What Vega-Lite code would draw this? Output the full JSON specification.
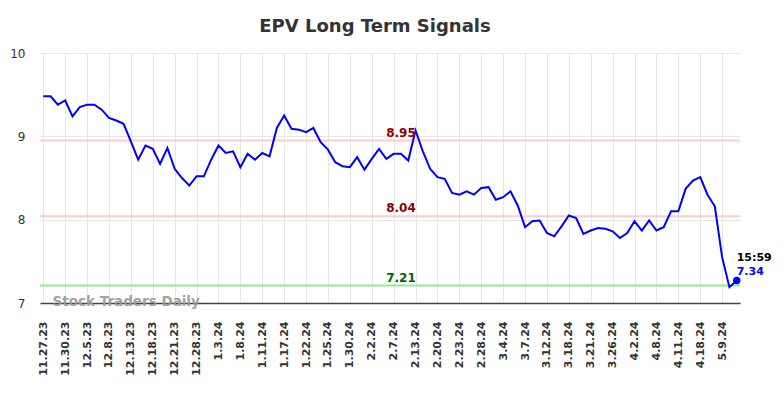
{
  "$schema": "https://vega.github.io/schema/vega-lite/v6.json",
  "autosize": "none",
  "width": 700,
  "height": 250,
  "padding": {"left": 40, "top": 53, "right": 44, "bottom": 95},
  "background": "#ffffff",
  "title": {
    "text": "EPV Long Term Signals",
    "font": "DejaVu Sans",
    "fontSize": 18,
    "fontWeight": "bold",
    "color": "#333333",
    "anchor": "middle",
    "dx": -15,
    "offset": 11
  },
  "config": {
    "view": {"stroke": null},
    "font": "DejaVu Sans"
  },
  "datasets": {
    "prices": [
      {"date": "11.27.23", "price": 9.48},
      {"date": "11.28.23", "price": 9.48},
      {"date": "11.29.23", "price": 9.38},
      {"date": "11.30.23", "price": 9.43},
      {"date": "12.1.23", "price": 9.24},
      {"date": "12.4.23", "price": 9.35},
      {"date": "12.5.23", "price": 9.38},
      {"date": "12.6.23", "price": 9.38},
      {"date": "12.7.23", "price": 9.32},
      {"date": "12.8.23", "price": 9.22},
      {"date": "12.11.23", "price": 9.19},
      {"date": "12.12.23", "price": 9.15},
      {"date": "12.13.23", "price": 8.94},
      {"date": "12.14.23", "price": 8.72},
      {"date": "12.15.23", "price": 8.89},
      {"date": "12.18.23", "price": 8.85},
      {"date": "12.19.23", "price": 8.67},
      {"date": "12.20.23", "price": 8.86},
      {"date": "12.21.23", "price": 8.61},
      {"date": "12.22.23", "price": 8.50},
      {"date": "12.26.23", "price": 8.41},
      {"date": "12.28.23", "price": 8.52},
      {"date": "12.29.23", "price": 8.52},
      {"date": "1.2.24", "price": 8.72},
      {"date": "1.3.24", "price": 8.89},
      {"date": "1.4.24", "price": 8.80},
      {"date": "1.5.24", "price": 8.82},
      {"date": "1.8.24", "price": 8.63},
      {"date": "1.9.24", "price": 8.79},
      {"date": "1.10.24", "price": 8.72},
      {"date": "1.11.24", "price": 8.80},
      {"date": "1.12.24", "price": 8.76},
      {"date": "1.16.24", "price": 9.10},
      {"date": "1.17.24", "price": 9.25},
      {"date": "1.18.24", "price": 9.09},
      {"date": "1.19.24", "price": 9.08},
      {"date": "1.22.24", "price": 9.05},
      {"date": "1.23.24", "price": 9.10},
      {"date": "1.24.24", "price": 8.93},
      {"date": "1.25.24", "price": 8.84},
      {"date": "1.26.24", "price": 8.69},
      {"date": "1.29.24", "price": 8.64},
      {"date": "1.30.24", "price": 8.63},
      {"date": "1.31.24", "price": 8.75},
      {"date": "2.1.24", "price": 8.60},
      {"date": "2.2.24", "price": 8.73},
      {"date": "2.5.24", "price": 8.85},
      {"date": "2.6.24", "price": 8.73},
      {"date": "2.7.24", "price": 8.79},
      {"date": "2.8.24", "price": 8.79},
      {"date": "2.12.24", "price": 8.71},
      {"date": "2.13.24", "price": 9.07},
      {"date": "2.14.24", "price": 8.82},
      {"date": "2.16.24", "price": 8.61},
      {"date": "2.20.24", "price": 8.51},
      {"date": "2.21.24", "price": 8.49},
      {"date": "2.22.24", "price": 8.32},
      {"date": "2.23.24", "price": 8.30},
      {"date": "2.26.24", "price": 8.34},
      {"date": "2.27.24", "price": 8.30},
      {"date": "2.28.24", "price": 8.38},
      {"date": "2.29.24", "price": 8.39},
      {"date": "3.1.24", "price": 8.24},
      {"date": "3.4.24", "price": 8.27},
      {"date": "3.5.24", "price": 8.34},
      {"date": "3.6.24", "price": 8.17},
      {"date": "3.7.24", "price": 7.91},
      {"date": "3.8.24", "price": 7.98},
      {"date": "3.11.24", "price": 7.99},
      {"date": "3.12.24", "price": 7.84},
      {"date": "3.13.24", "price": 7.80},
      {"date": "3.15.24", "price": 7.92},
      {"date": "3.18.24", "price": 8.05},
      {"date": "3.19.24", "price": 8.02},
      {"date": "3.20.24", "price": 7.83},
      {"date": "3.21.24", "price": 7.87},
      {"date": "3.22.24", "price": 7.90},
      {"date": "3.25.24", "price": 7.89},
      {"date": "3.26.24", "price": 7.86},
      {"date": "3.27.24", "price": 7.78},
      {"date": "3.28.24", "price": 7.84},
      {"date": "4.2.24", "price": 7.98},
      {"date": "4.3.24", "price": 7.87},
      {"date": "4.4.24", "price": 7.99},
      {"date": "4.8.24", "price": 7.87},
      {"date": "4.9.24", "price": 7.91},
      {"date": "4.10.24", "price": 8.10},
      {"date": "4.11.24", "price": 8.10},
      {"date": "4.12.24", "price": 8.37},
      {"date": "4.15.24", "price": 8.47},
      {"date": "4.18.24", "price": 8.51},
      {"date": "4.25.24", "price": 8.30},
      {"date": "5.2.24", "price": 8.16},
      {"date": "5.9.24", "price": 7.55},
      {"date": "5.10.24", "price": 7.19},
      {"date": "5.13.24", "price": 7.27}
    ],
    "levels": [
      {"level": 8.95, "kind": "resistance", "text": "8.95", "date": "2.8.24"},
      {"level": 8.04, "kind": "resistance", "text": "8.04", "date": "2.8.24"},
      {"level": 7.21, "kind": "support", "text": "7.21", "date": "2.8.24"}
    ],
    "last": [
      {"date": "5.13.24", "price": 7.27, "time": "15:59", "label": "7.34"}
    ],
    "brand": [
      {"date": "11.28.23", "price": 7, "text": "Stock Traders Daily"}
    ]
  },
  "layer": [
    {
      "data": {"name": "levels"},
      "mark": {"type": "rule", "strokeWidth": 2},
      "encoding": {
        "y": {"field": "level", "type": "quantitative"},
        "stroke": {
          "field": "kind",
          "type": "nominal",
          "scale": {"domain": ["resistance", "support"], "range": ["#ffcccc", "#90ee90"]},
          "legend": null
        }
      }
    },
    {
      "data": {"name": "prices"},
      "mark": {"type": "line", "color": "#0000ff", "strokeWidth": 2},
      "encoding": {
        "x": {
          "field": "date",
          "type": "ordinal",
          "sort": null,
          "scale": {"type": "point", "padding": 0.45},
          "axis": {
            "title": null,
            "values": ["11.27.23", "11.30.23", "12.5.23", "12.8.23", "12.13.23", "12.18.23", "12.21.23", "12.28.23", "1.3.24", "1.8.24", "1.11.24", "1.17.24", "1.22.24", "1.25.24", "1.30.24", "2.2.24", "2.7.24", "2.13.24", "2.20.24", "2.23.24", "2.28.24", "3.4.24", "3.7.24", "3.12.24", "3.18.24", "3.21.24", "3.26.24", "4.2.24", "4.8.24", "4.11.24", "4.18.24", "5.9.24"],
            "labelAngle": -90,
            "labelFont": "DejaVu Sans",
            "labelFontSize": 11,
            "labelFontWeight": "bold",
            "labelColor": "#333333",
            "labelPadding": 18,
            "ticks": false,
            "grid": true,
            "gridColor": "#e6e6e6",
            "gridWidth": 1,
            "domain": true,
            "domainColor": "#444444",
            "domainWidth": 1.5
          }
        },
        "y": {
          "field": "price",
          "type": "quantitative",
          "scale": {"domain": [7, 10], "nice": false, "zero": false},
          "axis": {
            "title": null,
            "values": [7, 8, 9, 10],
            "format": "d",
            "labelFont": "DejaVu Sans",
            "labelFontSize": 12,
            "labelColor": "#333333",
            "labelPadding": 15,
            "ticks": false,
            "domain": false,
            "grid": true,
            "gridColor": "#e6e6e6",
            "gridWidth": 1
          }
        }
      }
    },
    {
      "data": {"name": "levels"},
      "mark": {"type": "text", "fontWeight": "bold", "fontSize": 12, "baseline": "alphabetic", "dy": -4, "align": "center"},
      "encoding": {
        "x": {"field": "date", "type": "ordinal", "sort": null},
        "y": {"field": "level", "type": "quantitative"},
        "text": {"field": "text"},
        "fill": {
          "field": "kind",
          "type": "nominal",
          "scale": {"domain": ["resistance", "support"], "range": ["#8b0000", "#006400"]},
          "legend": null
        }
      }
    },
    {
      "data": {"name": "last"},
      "mark": {"type": "point", "filled": true, "color": "#0000ff", "size": 55, "opacity": 1},
      "encoding": {
        "x": {"field": "date", "type": "ordinal", "sort": null},
        "y": {"field": "price", "type": "quantitative"}
      }
    },
    {
      "data": {"name": "last"},
      "mark": {"type": "text", "fontWeight": "bold", "fontSize": 11, "align": "left", "baseline": "alphabetic", "dy": -20, "color": "#000000"},
      "encoding": {
        "x": {"field": "date", "type": "ordinal", "sort": null},
        "y": {"field": "price", "type": "quantitative"},
        "text": {"field": "time"}
      }
    },
    {
      "data": {"name": "last"},
      "mark": {"type": "text", "fontWeight": "bold", "fontSize": 11, "align": "left", "baseline": "alphabetic", "dy": -6, "color": "#0000ff"},
      "encoding": {
        "x": {"field": "date", "type": "ordinal", "sort": null},
        "y": {"field": "price", "type": "quantitative"},
        "text": {"field": "label"}
      }
    },
    {
      "data": {"name": "brand"},
      "mark": {"type": "text", "fontWeight": "bold", "fontSize": 13.5, "align": "left", "baseline": "middle", "dx": 2, "dy": -1, "color": "#999999", "opacity": 0.9},
      "encoding": {
        "x": {"field": "date", "type": "ordinal", "sort": null},
        "y": {"field": "price", "type": "quantitative"},
        "text": {"field": "text"}
      }
    }
  ]
}
